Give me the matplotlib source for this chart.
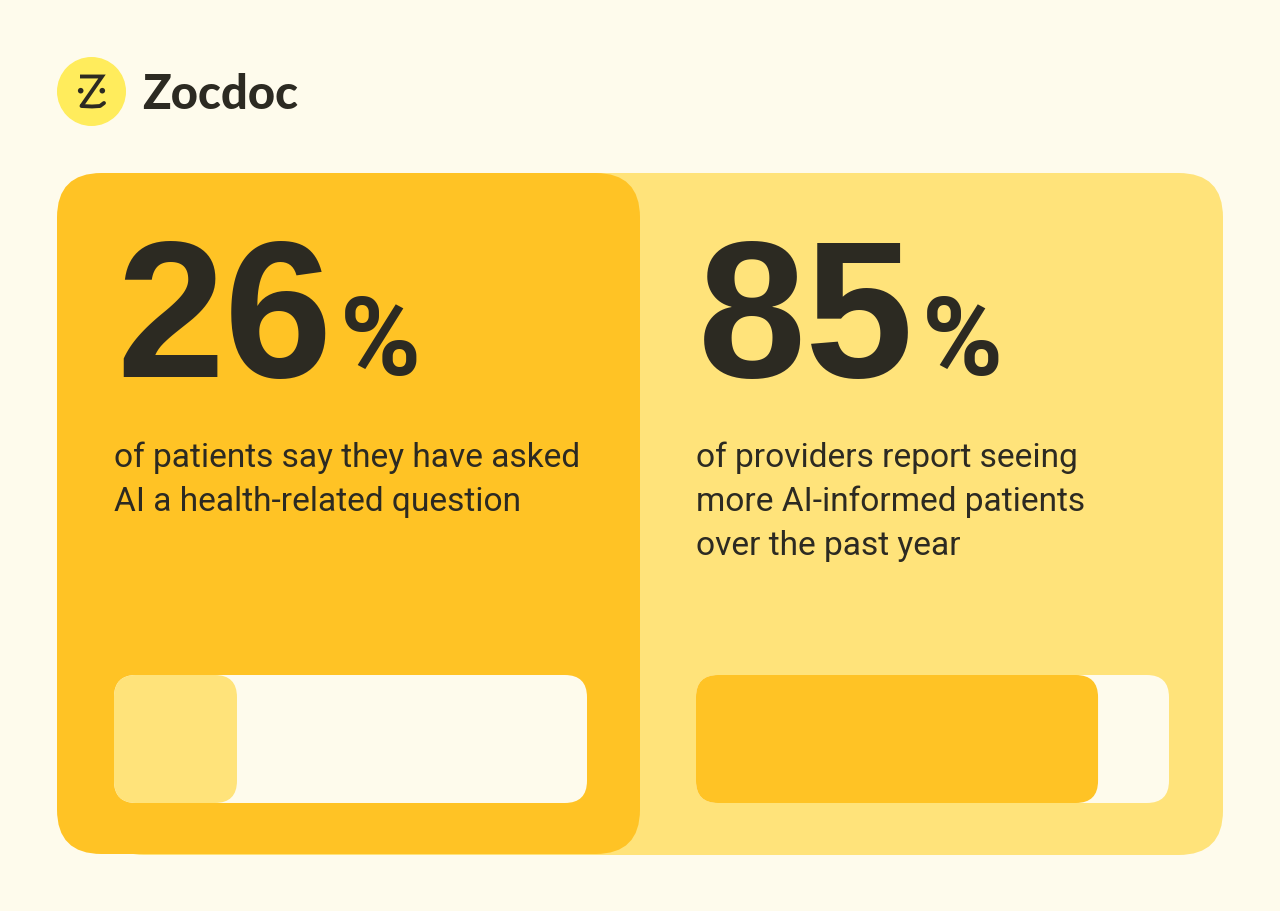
import matplotlib
matplotlib.use("Agg")
import matplotlib.pyplot as plt
from matplotlib.patches import FancyBboxPatch, Circle

# values
pct_values = [26, 85]
pct_labels = ["26", "85"]
captions = [
    ["of patients say they have asked", "AI a health-related question"],
    ["of providers report seeing", "more AI-informed patients", "over the past year"],
]
brand = "Zocdoc"

BG = "#FEFBEC"
ORANGE = "#FFC325"
LIGHT = "#FFE37A"
LOGO = "#FFEC5C"
INK = "#2C2A22"

plt.rcParams['font.family'] = ['Inter', 'DejaVu Sans']

fig = plt.figure(figsize=(12.8, 9.12), dpi=100, facecolor=BG)
ax = fig.add_axes([0, 0, 1, 1])
ax.set_xlim(0, 1280)
ax.set_ylim(911, -1)
ax.axis("off")


def rbox(x0, y0, x1, y1, r, color, z):
    # matplotlib's round corner is a quadratic curve, 1.17 brings it near a true arc
    r = r * 1.17
    p = FancyBboxPatch((x0 + r, y0 + r), x1 - x0 - 2 * r, y1 - y0 - 2 * r,
                       boxstyle="round,pad=%f,rounding_size=%f" % (r, r),
                       fc=color, ec="none", zorder=z)
    ax.add_patch(p)


# logo
ax.add_patch(Circle((91.5, 91.5), 34.5, fc=LOGO, ec="none"))
ax.plot([80, 102, 81.5], [76.5, 76.5, 106], color=INK, lw=2.8, solid_capstyle="butt", solid_joinstyle="miter")
ax.plot([81.5, 92, 100, 104], [106, 106.5, 106, 103], color=INK, lw=2.8, solid_capstyle="round")
ax.add_patch(Circle((80.7, 90.7), 2.8, fc=INK, ec="none"))
ax.add_patch(Circle((102.3, 90.7), 2.8, fc=INK, ec="none"))
ax.text(142, 108, brand, fontsize=34, fontweight=900, family="Lato", color=INK, va="baseline", ha="left")

# panels
rbox(100, 173, 1223, 855, 38, LIGHT, 1)
rbox(57, 173, 640, 854, 38, ORANGE, 2)

# columns
col_x = [114, 696]
fills = [LIGHT, ORANGE]
pct_x = [340, 922]
track_w = 473
for i, v in enumerate(pct_values):
    x = col_x[i]
    ax.text(x + 2, 376, pct_labels[i], fontsize=140, fontweight="bold", family="Liberation Sans", color=INK,
            va="baseline", ha="left", zorder=3)
    ax.text(pct_x[i], 374, "%", fontsize=79, fontweight="bold", family="Roboto", color=INK,
            va="baseline", ha="left", zorder=3)
    for j, line in enumerate(captions[i]):
        ax.text(x, 466 + 44 * j, line, fontsize=24.1, fontweight="normal", family="Roboto", color=INK,
                va="baseline", ha="left", zorder=3)
    # track and bar
    rbox(x, 675, x + track_w, 803, 19, BG, 3)
    rbox(x, 675, x + track_w * v / 100, 803, 19, fills[i], 4)

fig.savefig("out.png", dpi=100, facecolor=BG)
